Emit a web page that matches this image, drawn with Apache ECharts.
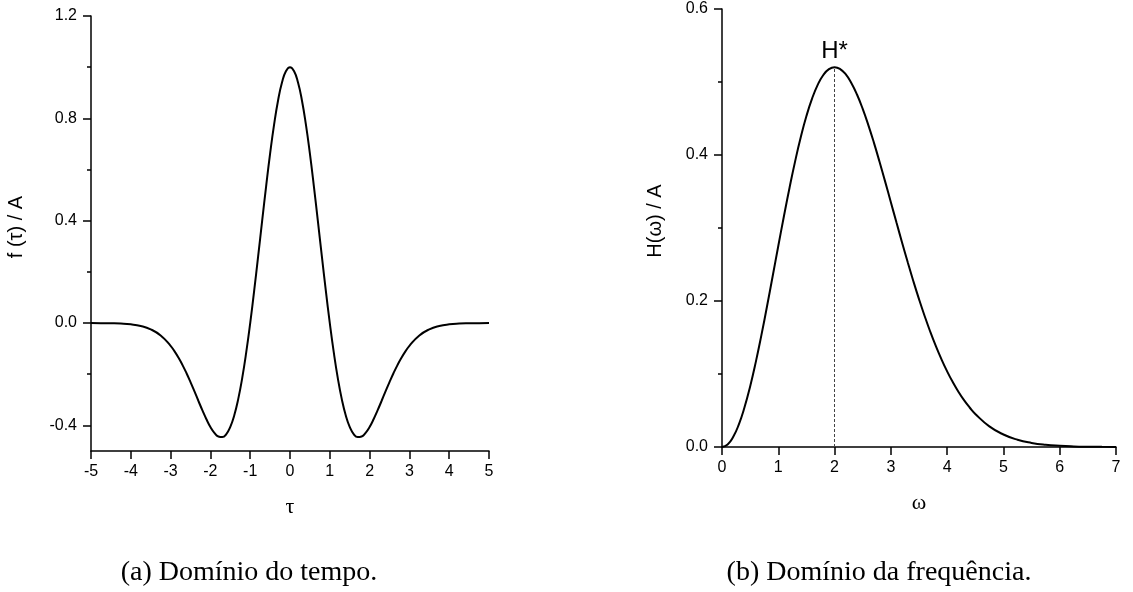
<!DOCTYPE html>
<html>
<head>
<meta charset="utf-8">
<script src="https://cdn.jsdelivr.net/npm/echarts@6/dist/echarts.min.js"></script>
<style>html,body{margin:0;padding:0;background:#fff;}#c{width:1133px;height:592px;}</style>
</head>
<body>
<div id="c"></div>
<script>
// ---- Data ----
var tauValues = [-5,-4.75,-4.5,-4.25,-4,-3.75,-3.5,-3.25,-3,-2.9,-2.8,-2.7,-2.6,-2.5,-2.4,-2.3,-2.2,-2.1,-2,-1.9,-1.8,-1.7,-1.6,-1.5,-1.4,-1.3,-1.2,-1.1,-1,-0.9,-0.8,-0.7,-0.6,-0.5,-0.4,-0.3,-0.2,-0.1,0,0.1,0.2,0.3,0.4,0.5,0.6,0.7,0.8,0.9,1,1.1,1.2,1.3,1.4,1.5,1.6,1.7,1.8,1.9,2,2.1,2.2,2.3,2.4,2.5,2.6,2.7,2.8,2.9,3,3.25,3.5,3.75,4,4.25,4.5,4.75,5];
var fValues = [-0.0001,-0.0003,-0.0008,-0.0020,-0.0050,-0.0115,-0.0246,-0.0486,-0.0889,-0.1106,-0.1357,-0.1643,-0.1961,-0.2307,-0.2672,-0.3046,-0.3415,-0.3760,-0.4060,-0.4293,-0.4433,-0.4456,-0.4337,-0.4058,-0.3603,-0.2964,-0.2142,-0.1147,0,0.1267,0.2614,0.3992,0.5346,0.6619,0.7754,0.8700,0.9410,0.9851,1,0.9851,0.9410,0.8700,0.7754,0.6619,0.5346,0.3992,0.2614,0.1267,0,-0.1147,-0.2142,-0.2964,-0.3603,-0.4058,-0.4337,-0.4456,-0.4433,-0.4293,-0.4060,-0.3760,-0.3415,-0.3046,-0.2672,-0.2307,-0.1961,-0.1643,-0.1357,-0.1106,-0.0889,-0.0486,-0.0246,-0.0115,-0.0050,-0.0020,-0.0008,-0.0003,-0.0001];
var omegaValues = [0,0.1,0.2,0.3,0.4,0.5,0.6,0.7,0.8,0.9,1,1.1,1.2,1.3,1.4,1.5,1.6,1.7,1.8,1.9,2,2.1,2.2,2.3,2.4,2.5,2.6,2.7,2.8,2.9,3,3.1,3.2,3.3,3.4,3.5,3.6,3.7,3.8,3.9,4,4.1,4.2,4.3,4.4,4.5,4.75,5,5.25,5.5,5.75,6,6.25,6.5,6.75,7];
var hValues = [0,0.0035,0.0140,0.0311,0.0544,0.0830,0.1163,0.1533,0.1928,0.2339,0.2754,0.3161,0.3552,0.3916,0.4245,0.4533,0.4772,0.4961,0.5096,0.5176,0.5203,0.5177,0.5103,0.4984,0.4825,0.4632,0.4410,0.4166,0.3904,0.3632,0.3354,0.3074,0.2799,0.2530,0.2271,0.2026,0.1795,0.1579,0.1381,0.1200,0.1036,0.0889,0.0758,0.0642,0.0541,0.0453,0.0283,0.0171,0.0099,0.0056,0.0030,0.0016,0.0008,0.0004,0.0002,0.0001];
var leftYMajorTicks = [-0.4, 0, 0.4, 0.8, 1.2];
var leftYMinorTicks = [-0.2, 0.2, 0.6, 1.0];
var peakOmega = 2;
var peakH = 0.5203;
var peakLabel = 'H*';
var yNameA = 'f (τ) / A';
var yNameB = 'H(ω) / A';
var captionA = '(a) Domínio do tempo.';
var captionB = '(b) Domínio da frequência.';

function pairs(xs, ys) { return xs.map(function (x, i) { return [x, ys[i]]; }); }

var sans = 'Liberation Sans, Arial, sans-serif';
var serif = 'Liberation Serif, Times New Roman, serif';
var axisLine = { show: true, onZero: false, lineStyle: { color: '#000', width: 1.5 } };
var tickMajor = { show: true, inside: false, length: 8, lineStyle: { color: '#000', width: 1.5 } };
var labelStyle = { color: '#000', fontFamily: sans, fontSize: 16 };

var chart = echarts.init(document.getElementById('c'), null, { renderer: 'canvas' });
chart.setOption({
  backgroundColor: '#fff',
  animation: false,
  grid: [
    { left: 91, top: 16, width: 398, height: 435 },
    { left: 722, top: 9, width: 394, height: 438 }
  ],
  xAxis: [
    {
      gridIndex: 0, type: 'value', min: -5, max: 5, interval: 1,
      axisLine: axisLine, axisTick: tickMajor, splitLine: { show: false },
      axisLabel: Object.assign({ margin: 13 }, labelStyle),
      name: 'τ', nameLocation: 'middle', nameGap: 45,
      nameTextStyle: { color: '#000', fontFamily: serif, fontSize: 22 }
    },
    {
      gridIndex: 1, type: 'value', min: 0, max: 7, interval: 1,
      axisLine: axisLine, axisTick: tickMajor, splitLine: { show: false },
      axisLabel: Object.assign({ margin: 13 }, labelStyle),
      name: 'ω', nameLocation: 'middle', nameGap: 45,
      nameTextStyle: { color: '#000', fontFamily: serif, fontSize: 22 }
    }
  ],
  yAxis: [
    {
      gridIndex: 0, type: 'value', min: -0.5, max: 1.2,
      axisLine: axisLine,
      axisTick: Object.assign({ customValues: leftYMajorTicks }, tickMajor),
      splitLine: { show: false },
      axisLabel: Object.assign({ margin: 14, customValues: leftYMajorTicks, formatter: function (v) { return v.toFixed(1); } }, labelStyle)
    },
    {
      gridIndex: 0, type: 'value', min: -0.5, max: 1.2, position: 'left',
      axisLine: { show: false, onZero: false },
      axisTick: { show: true, inside: false, length: 4, customValues: leftYMinorTicks, lineStyle: { color: '#000', width: 1.5 } },
      axisLabel: { show: false }, splitLine: { show: false }
    },
    {
      gridIndex: 1, type: 'value', min: 0, max: 0.6, interval: 0.2,
      axisLine: axisLine, axisTick: tickMajor, splitLine: { show: false },
      minorTick: { show: true, splitNumber: 2, length: 4, lineStyle: { color: '#000', width: 1.5 } },
      axisLabel: Object.assign({ margin: 14, formatter: function (v) { return v.toFixed(1); } }, labelStyle)
    }
  ],
  series: [
    {
      type: 'line', xAxisIndex: 0, yAxisIndex: 0, data: pairs(tauValues, fValues),
      smooth: true, showSymbol: false, lineStyle: { color: '#000', width: 2 }
    },
    {
      type: 'line', xAxisIndex: 1, yAxisIndex: 2, data: pairs(omegaValues, hValues),
      smooth: true, showSymbol: false, lineStyle: { color: '#000', width: 2 },
      markLine: {
        silent: true, symbol: ['none', 'none'], label: { show: false },
        lineStyle: { color: '#444', width: 1, type: [3, 2] },
        data: [[{ coord: [peakOmega, 0] }, { coord: [peakOmega, peakH] }]]
      },
      markPoint: {
        symbol: 'circle', symbolSize: 0,
        label: { show: true, position: 'top', distance: 4, formatter: peakLabel, color: '#000', fontFamily: sans, fontSize: 24 },
        data: [{ coord: [peakOmega, peakH] }]
      }
    }
  ],
  graphic: [
    { type: 'text', x: 16, y: 227, rotation: Math.PI / 2, style: { text: yNameA, fill: '#000', font: '20px ' + sans, textAlign: 'center', textVerticalAlign: 'middle' } },
    { type: 'text', x: 655, y: 221, rotation: Math.PI / 2, style: { text: yNameB, fill: '#000', font: '20px ' + sans, textAlign: 'center', textVerticalAlign: 'middle' } },
    { type: 'text', x: 249, y: 573, style: { text: captionA, fill: '#000', font: '28px ' + serif, textAlign: 'center', textVerticalAlign: 'middle' } },
    { type: 'text', x: 879, y: 573, style: { text: captionB, fill: '#000', font: '28px ' + serif, textAlign: 'center', textVerticalAlign: 'middle' } }
  ]
});
</script>
</body>
</html>
